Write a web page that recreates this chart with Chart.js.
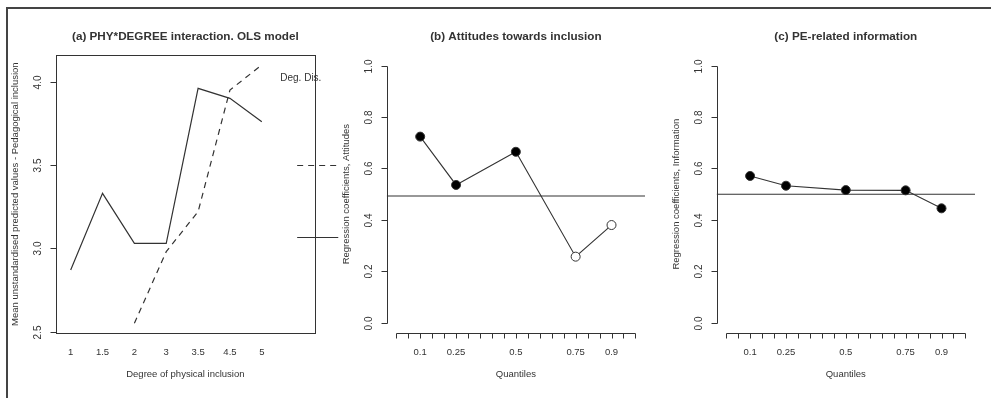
<!DOCTYPE html>
<html>
<head>
<meta charset="utf-8">
<script src="https://cdn.jsdelivr.net/npm/chart.js@4.4.1/dist/chart.umd.min.js"></script>
<style>
  html, body { margin: 0; padding: 0; background: #fff; width: 991px; height: 398px; overflow: hidden; }
  .panel { position: absolute; left: 0; top: 0; }
  #frame { position: absolute; left: 6px; top: 7px; right: 0; bottom: 0; border-top: 2px solid #444; border-left: 2px solid #444; }
</style>
</head>
<body>
<div id="frame"></div>
<canvas id="chartA" class="panel" width="991" height="398"></canvas>
<canvas id="chartB" class="panel" width="991" height="398"></canvas>
<canvas id="chartC" class="panel" width="991" height="398"></canvas>
<script>
// panel (a): interaction plot
const degreeLabels = ['1', '1.5', '2', '3', '3.5', '4.5', '5'];
const solidValues = [2.87, 3.33, 3.03, 3.03, 3.96, 3.90, 3.76];
const dashedValues = [null, null, 2.55, 2.98, 3.22, 3.95, 4.10];
const degreeTicks = [2.5, 3.0, 3.5, 4.0];

// panels (b) and (c): quantile regressions
const quantiles = [0.1, 0.25, 0.5, 0.75, 0.9];
const attitudeCoefs = [0.724, 0.536, 0.665, 0.257, 0.380];
const attitudeSignif = [true, true, true, false, false];
const attitudeRef = 0.493;
const infoCoefs = [0.571, 0.533, 0.516, 0.515, 0.445];
const infoSignif = [true, true, true, true, true];
const infoRef = 0.50;
const coefTicks = [0, 0.2, 0.4, 0.6, 0.8, 1.0];

const INK = '#333';
const FONT = '"Liberation Sans", Arial, Helvetica, sans-serif';

// R-style axes, titles and labels, drawn from the chart's own scales
const rAxes = {
  id: 'rAxes',
  afterDraw(chart, args, o) {
    const ctx = chart.ctx;
    const xs = chart.scales.x, ys = chart.scales.y, a = chart.chartArea;
    ctx.save();
    ctx.strokeStyle = INK;
    ctx.fillStyle = INK;
    ctx.lineWidth = 1;

    // main title
    ctx.font = 'bold 11.7px ' + FONT;
    ctx.textAlign = 'center';
    ctx.textBaseline = 'middle';
    ctx.fillText(o.title, (a.left + a.right) / 2, 37);

    // y axis
    const lx = Math.round(a.left) + 0.5;
    if (o.box) {
      ctx.strokeRect(lx, Math.round(a.top) + 0.5, Math.round(a.right - a.left), Math.round(a.bottom - a.top));
    } else {
      const t0 = ys.getPixelForValue(o.yTicks[0]), t1 = ys.getPixelForValue(o.yTicks[o.yTicks.length - 1]);
      ctx.beginPath(); ctx.moveTo(lx, Math.round(t0) + 0.5); ctx.lineTo(lx, Math.round(t1) + 0.5); ctx.stroke();
    }
    ctx.font = '10px ' + FONT;
    o.yTicks.forEach(v => {
      const py = Math.round(ys.getPixelForValue(v)) + 0.5;
      ctx.beginPath(); ctx.moveTo(lx, py); ctx.lineTo(lx - 6, py); ctx.stroke();
      ctx.save();
      ctx.translate(a.left - 17, py);
      ctx.rotate(-Math.PI / 2);
      ctx.fillText(v.toFixed(1), 0, 0);
      ctx.restore();
    });

    // x axis
    const by = 352;
    ctx.font = '9.5px ' + FONT;
    if (o.xMinor) {
      const ay = Math.round(a.bottom) + 0.5;
      const p0 = Math.round(xs.getPixelForValue(0)) + 0.5, p1 = Math.round(xs.getPixelForValue(1)) + 0.5;
      ctx.beginPath(); ctx.moveTo(p0, ay); ctx.lineTo(p1, ay); ctx.stroke();
      for (let k = 0; k <= 20; k++) {
        const px = Math.round(xs.getPixelForValue(k * o.xMinor)) + 0.5;
        ctx.beginPath(); ctx.moveTo(px, ay); ctx.lineTo(px, ay + 5); ctx.stroke();
      }
    }
    o.xTicks.forEach((v, i) => {
      ctx.fillText(o.xLabels[i], xs.getPixelForValue(v), by);
    });
    ctx.font = '9.5px ' + FONT;
    ctx.fillText(o.xTitle, (a.left + a.right) / 2, 374);

    ctx.save();
    ctx.translate(a.left - 40, (a.top + a.bottom) / 2);
    ctx.rotate(-Math.PI / 2);
    ctx.fillText(o.yTitle, 0, 0);
    ctx.restore();

    // interaction.plot legend remnants
    if (o.legend) {
      ctx.textAlign = 'left';
      ctx.font = '10px ' + FONT;
      ctx.fillText(o.legend.title, xs.getPixelForValue(o.legend.textX), ys.getPixelForValue(o.legend.textY));
      o.legend.lines.forEach(l => {
        const py = Math.round(ys.getPixelForValue(l.y)) + 0.5;
        ctx.setLineDash(l.dash);
        ctx.beginPath();
        ctx.moveTo(xs.getPixelForValue(o.legend.x0), py);
        ctx.lineTo(xs.getPixelForValue(o.legend.x1), py);
        ctx.stroke();
      });
      ctx.setLineDash([]);
    }
    ctx.restore();
  }
};

const baseOptions = (padding, xRange, yRange, axes) => ({
  responsive: false,
  animation: false,
  layout: { padding },
  plugins: { legend: { display: false }, tooltip: { enabled: false }, rAxes: axes },
  scales: {
    x: { type: 'linear', display: false, min: xRange[0], max: xRange[1] },
    y: { type: 'linear', display: false, min: yRange[0], max: yRange[1] }
  }
});

// (a)
new Chart(document.getElementById('chartA'), {
  type: 'line',
  data: {
    datasets: [
      {
        data: degreeLabels.map((l, i) => ({ x: i, y: solidValues[i] })),
        borderColor: INK, borderWidth: 1.2, pointRadius: 0, tension: 0
      },
      {
        data: degreeLabels.map((l, i) => ({ x: i, y: dashedValues[i] })),
        borderColor: INK, borderWidth: 1.2, borderDash: [6, 5], pointRadius: 0, tension: 0
      }
    ]
  },
  options: baseOptions(
    { left: 55.7, right: 676, top: 55, bottom: 64.7 },
    [-0.47, 7.67], [2.49, 4.16],
    {
      title: '(a) PHY*DEGREE interaction. OLS model',
      box: true,
      yTicks: degreeTicks,
      xTicks: degreeLabels.map((l, i) => i),
      xLabels: degreeLabels,
      xTitle: 'Degree of physical inclusion',
      yTitle: 'Mean unstandardised predicted values - Pedagogical inclusion',
      legend: {
        title: 'Deg. Dis.', textX: 6.58, textY: 4.02,
        x0: 7.11, x1: 8.4,
        lines: [{ y: 3.5, dash: [6, 5] }, { y: 3.07, dash: [] }]
      }
    }
  ),
  plugins: [rAxes]
});

const quantileChart = (id, coefs, signif, ref, title, yTitle, left, right) => new Chart(document.getElementById(id), {
  type: 'line',
  data: {
    datasets: [
      {
        data: quantiles.map((q, i) => ({ x: q, y: coefs[i] })),
        borderColor: INK, borderWidth: 1.1, tension: 0,
        pointRadius: 4.5, pointBorderWidth: 1,
        pointBorderColor: INK,
        pointBackgroundColor: signif.map(s => s ? '#000' : '#fff'),
        order: 1
      },
      {
        data: [{ x: -0.04, y: ref }, { x: 1.04, y: ref }],
        borderColor: INK, borderWidth: 1.1, pointRadius: 0, order: 2
      }
    ]
  },
  options: baseOptions(
    { left, right, top: 55.4, bottom: 65 },
    [-0.04, 1.04], [-0.04, 1.04],
    {
      title, yTitle,
      box: false,
      yTicks: coefTicks,
      xTicks: quantiles,
      xLabels: quantiles.map(String),
      xMinor: 0.05,
      xTitle: 'Quantiles'
    }
  ),
  plugins: [rAxes]
});

quantileChart('chartB', attitudeCoefs, attitudeSignif, attitudeRef,
  '(b) Attitudes towards inclusion', 'Regression coefficients, Attitudes', 386.7, 346);
quantileChart('chartC', infoCoefs, infoSignif, infoRef,
  '(c) PE-related information', 'Regression coefficients, Information', 716.6, 16);
</script>
</body>
</html>
